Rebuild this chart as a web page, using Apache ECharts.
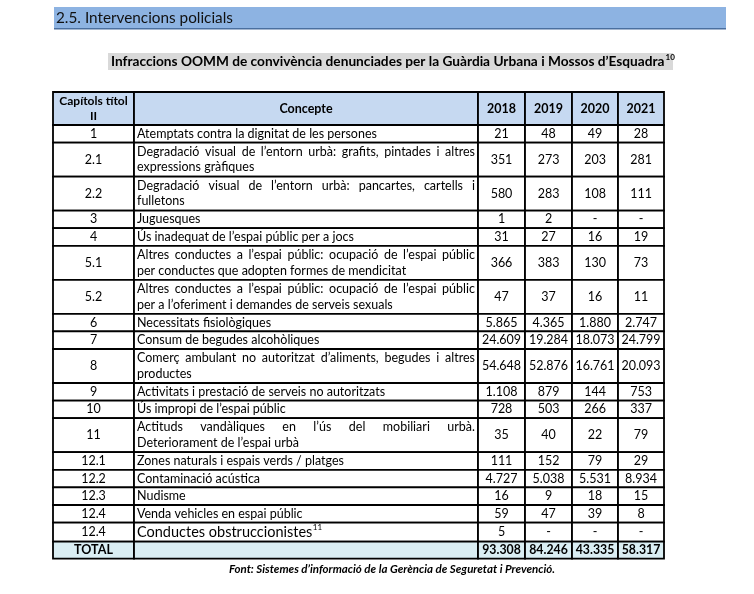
<!DOCTYPE html>
<html><head><meta charset="utf-8">
<script src="https://cdn.jsdelivr.net/npm/echarts@6/dist/echarts.min.js"></script>
<style>html,body{margin:0;padding:0;background:#fff}#c{width:754px;height:594px}</style>
</head><body><div id="c"></div>
<script>
// ---------- data ----------
const sectionTitle = '2.5. Intervencions policials';
const tableTitle = 'Infraccions OOMM de convivència denunciades per la Guàrdia Urbana i Mossos d’Esquadra';
const tableTitleNote = '10';
const sourceNote = 'Font: Sistemes d’informació de la Gerència de Seguretat i Prevenció.';
const headCapitols = ['Capítols títol', 'II'];
const headConcepte = 'Concepte';
const years = ['2018', '2019', '2020', '2021'];
const capitols = ['1', '2.1', '2.2', '3', '4', '5.1', '5.2', '6', '7', '8', '9', '10', '11', '12.1', '12.2', '12.3', '12.4', '12.4'];
const conceptes = [
  ['Atemptats contra la dignitat de les persones'],
  ['Degradació visual de l’entorn urbà: grafits, pintades i altres', 'expressions gràfiques'],
  ['Degradació visual de l’entorn urbà: pancartes, cartells i', 'fulletons'],
  ['Juguesques'],
  ['Ús inadequat de l’espai públic per a jocs'],
  ['Altres conductes a l’espai públic: ocupació de l’espai públic', 'per conductes que adopten formes de mendicitat'],
  ['Altres conductes a l’espai públic: ocupació de l’espai públic', 'per a l’oferiment i demandes de serveis sexuals'],
  ['Necessitats fisiològiques'],
  ['Consum de begudes alcohòliques'],
  ['Comerç ambulant no autoritzat d’aliments, begudes i altres', 'productes'],
  ['Activitats i prestació de serveis no autoritzats'],
  ['Ús impropi de l’espai públic'],
  ['Actituds vandàliques en l’ús del mobiliari urbà.', 'Deteriorament de l’espai urbà'],
  ['Zones naturals i espais verds / platges'],
  ['Contaminació acústica'],
  ['Nudisme'],
  ['Venda vehicles en espai públic'],
  ['Conductes obstruccionistes']
];
const conceptNotes = ['', '', '', '', '', '', '', '', '', '', '', '', '', '', '', '', '', '11'];
const values2018 = [21, 351, 580, 1, 31, 366, 47, 5865, 24609, 54648, 1108, 728, 35, 111, 4727, 16, 59, 5];
const values2019 = [48, 273, 283, 2, 27, 383, 37, 4365, 19284, 52876, 879, 503, 40, 152, 5038, 9, 47, null];
const values2020 = [49, 203, 108, null, 16, 130, 16, 1880, 18073, 16761, 144, 266, 22, 79, 5531, 18, 39, null];
const values2021 = [28, 281, 111, null, 19, 73, 11, 2747, 24799, 20093, 753, 337, 79, 29, 8934, 15, 8, null];
const totalLabel = 'TOTAL';
const totals = [93308, 84246, 43335, 58317];

// ---------- layout / style ----------
const colWidths = [81, 344, 47, 47, 46, 46];
const rowHeights = [33, 17.6, 34, 34, 17.6, 17.6, 34, 34, 17.6, 17.6, 34, 17.6, 17.6, 34, 17.6, 17.6, 17.6, 17.6, 19, 17];
const FONT = 'Lato, "Open Sans", sans-serif';
const bodyFont = '12.5px ' + FONT;
const numFont = '12.5px ' + FONT;
const boldFont = 'bold 12.5px ' + FONT;
const boldNumFont = 'bold 12.3px ' + FONT;
const capHeadFont = 'bold 12px ' + FONT;
const bigFont = '14.5px ' + FONT;
const headBg = '#C6D9F1';
const totalBg = '#DAEEF3';

const cumX = [0]; colWidths.forEach(w => cumX.push(cumX[cumX.length - 1] + w));
const cumY = [0]; rowHeights.forEach(h => cumY.push(cumY[cumY.length - 1] + h));
const fmt = v => (v === null || v === undefined) ? '-' : String(v).replace(/\B(?=(\d{3})+(?!\d))/g, '.');
const yearValues = [values2018, values2019, values2020, values2021];

const cells = [];
function addCell(r, c, opts) {
  cells.push(Object.assign({ value: [cumX[c], cumY[r], cumX[c + 1], cumY[r + 1]], bg: '#fff', font: bodyFont, align: 'center', lineHeight: 15.5 }, opts));
}
// header
addCell(0, 0, { lines: headCapitols, bg: headBg, font: capHeadFont, lineHeight: 15 });
addCell(0, 1, { lines: [headConcepte], bg: headBg, font: boldFont });
years.forEach((y, i) => addCell(0, 2 + i, { lines: [y], bg: headBg, font: boldFont }));
// body
capitols.forEach((cap, k) => {
  const r = k + 1;
  addCell(r, 0, { lines: [cap] });
  const note = conceptNotes[k];
  addCell(r, 1, { lines: conceptes[k], align: 'left', justify: conceptes[k].length > 1, note: note, font: note ? bigFont : bodyFont });
  yearValues.forEach((vals, i) => addCell(r, 2 + i, { lines: [fmt(vals[k])], font: numFont }));
});
// total
const tr = capitols.length + 1;
addCell(tr, 0, { lines: [totalLabel], bg: totalBg, font: boldFont });
addCell(tr, 1, { lines: [''], bg: totalBg });
totals.forEach((v, i) => addCell(tr, 2 + i, { lines: [fmt(v)], bg: totalBg, font: boldNumFont }));

const measureCtx = document.createElement('canvas').getContext('2d');
function tw(text, font) { measureCtx.font = font; return measureCtx.measureText(text).width; }

function renderItem(params, api) {
  const cell = cells[params.dataIndex];
  const p0 = api.coord([api.value(0), api.value(1)]);
  const p1 = api.coord([api.value(2), api.value(3)]);
  const x = p0[0], y = p0[1], w = p1[0] - p0[0], h = p1[1] - p0[1];
  const children = [{ type: 'rect', shape: { x: x, y: y, width: w, height: h }, style: { fill: cell.bg, stroke: '#000', lineWidth: 1.8 } }];
  const n = cell.lines.length;
  const pad = 3;
  cell.lines.forEach((ln, i) => {
    const ly = y + h / 2 + (i - (n - 1) / 2) * cell.lineHeight;
    if (cell.align === 'center') {
      children.push({ type: 'text', style: { text: ln, x: x + w / 2, y: ly, font: cell.font, fill: '#000', align: 'center', verticalAlign: 'middle' } });
    } else if (cell.justify && i < n - 1) {
      const words = ln.split(' ');
      const widths = words.map(wd => tw(wd, cell.font));
      const sum = widths.reduce((a, b) => a + b, 0);
      const gap = (w - 2 * pad - sum) / (words.length - 1);
      let cx = x + pad;
      words.forEach((wd, j) => {
        children.push({ type: 'text', style: { text: wd, x: cx, y: ly, font: cell.font, fill: '#000', align: 'left', verticalAlign: 'middle' } });
        cx += widths[j] + gap;
      });
    } else if (cell.note) {
      const mw = tw(ln, cell.font);
      children.push({ type: 'text', style: { text: ln, x: x + pad, y: ly, font: cell.font, fill: '#000', align: 'left', verticalAlign: 'middle' } });
      children.push({ type: 'text', style: { text: cell.note, x: x + pad + mw + 0.5, y: ly - 5, font: '8px ' + FONT, fill: '#000', align: 'left', verticalAlign: 'middle' } });
    } else {
      children.push({ type: 'text', style: { text: ln, x: x + pad, y: ly, font: cell.font, fill: '#000', align: 'left', verticalAlign: 'middle' } });
    }
  });
  return { type: 'group', children: children };
}

const titleFont = 'bold 13.7px ' + FONT;
const titleW = tw(tableTitle, titleFont);

const chart = echarts.init(document.getElementById('c'), null, { renderer: 'canvas' });
chart.setOption({
  animation: false,
  grid: { left: 53, top: 92, width: cumX[cumX.length - 1], height: cumY[cumY.length - 1] },
  xAxis: { type: 'value', min: 0, max: cumX[cumX.length - 1], show: false },
  yAxis: { type: 'value', min: 0, max: cumY[cumY.length - 1], inverse: true, show: false },
  series: [{ type: 'custom', renderItem: renderItem, clip: false, data: cells.map(c => c.value) }],
  graphic: [
    { type: 'rect', shape: { x: 54, y: 7, width: 672, height: 22 }, style: { fill: '#8DB3E2' } },
    { type: 'rect', shape: { x: 54, y: 28, width: 672, height: 1.5 }, style: { fill: '#4A6F9F' } },
    { type: 'text', style: { text: sectionTitle, x: 56, y: 18, font: '15.3px ' + FONT, fill: '#111', verticalAlign: 'middle' } },
    { type: 'rect', shape: { x: 108, y: 53, width: 565, height: 17 }, style: { fill: '#D9D9D9' } },
    { type: 'text', style: { text: tableTitle, x: 111, y: 62, font: titleFont, fill: '#000', verticalAlign: 'middle' } },
    { type: 'text', style: { text: tableTitleNote, x: 111 + titleW + 1, y: 57, font: 'bold 8px ' + FONT, fill: '#000', verticalAlign: 'middle' } },
    { type: 'text', style: { text: sourceNote, x: 392, y: 569, font: 'italic bold 11.5px ' + FONT, fill: '#000', align: 'center', verticalAlign: 'middle' } }
  ]
});
</script>
</body></html>
